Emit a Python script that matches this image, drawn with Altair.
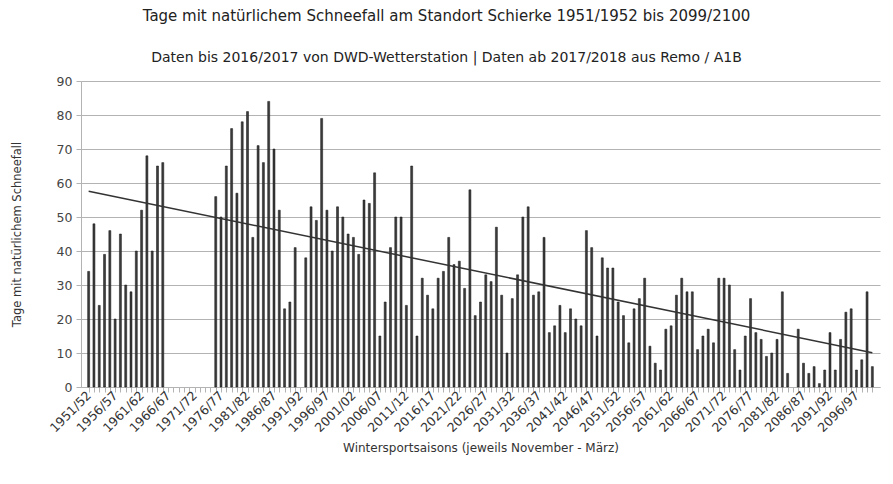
import json
import altair as alt
import pandas as pd

# Seasons 1951/52 ... 2099/2100
start_years = list(range(1951, 2100))
seasons = [f"{y}/{str(y + 1)[-2:]}" for y in start_years]

# Days with natural snowfall (None = no value in the source)
snow_days = [
    34, 48, 24, 39, 46, 20, 45, 30, 28, 40, 52, 68, 40, 65, 66,
    None, None, None, None, None, None, None, None, None,
    56, 50, 65, 76, 57, 78, 81, 44, 71, 66, 84, 70, 52, 23, 25, 41,
    None,
    38, 53, 49, 79, 52, 40, 53, 50, 45, 44,
    39, 55, 54, 63, 15, 25, 41, 50, 50, 24,
    65, 15, 32, 27, 23, 32, 34, 44, 36, 37,
    29, 58, 21, 25, 33, 31, 47, 27, 10, 26,
    33, 50, 53, 27, 28, 44, 16, 18, 24, 16,
    23, 20, 18, 46, 41, 15, 38, 35, 35, 25,
    21, 13, 23, 26, 32, 12, 7, 5, 17, 18,
    27, 32, 28, 28, 11, 15, 17, 13, 32, 32,
    30, 11, 5, 15, 26, 16, 14, 9, 10, 14,
    28, 4, None, 17, 7, 4, 6, 1, 5, 16,
    5, 14, 22, 23, 5, 8, 28, 6,
]

df = pd.DataFrame({"idx": list(range(len(seasons))), "season": seasons, "tage": snow_days})

FONT = "DejaVu Sans"
n = len(seasons)
label_expr = f"datum.value % 5 == 0 ? {json.dumps(seasons)}[datum.value] : ''"

x_enc = alt.X(
    "idx:Q",
    scale=alt.Scale(domain=[-0.5, n - 0.5], nice=False, zero=False),
    axis=alt.Axis(
        values=list(range(n)),
        labelExpr=label_expr,
        labelAngle=-45,
        labelAlign="right",
        labelBaseline="middle",
        labelOverlap=False,
        labelFlush=False,
        labelFontSize=12.5,
        labelColor="#333333",
        labelPadding=1,
        tickSize=5,
        tickColor="#b3b3b3",
        domainColor="#b3b3b3",
        grid=False,
        title="Wintersportsaisons (jeweils November - März)",
        titleFontSize=12,
        titleFontWeight="normal",
        titleColor="#333333",
        titlePadding=8,
    ),
)

y_enc = alt.Y(
    "tage:Q",
    scale=alt.Scale(domain=[0, 90], nice=False),
    axis=alt.Axis(
        values=list(range(0, 91, 10)),
        labelOverlap=False,
        labelFontSize=12.5,
        labelColor="#444444",
        labelPadding=4,
        tickSize=5,
        tickColor="#b3b3b3",
        domainColor="#b3b3b3",
        gridColor="#b3b3b3",
        title="Tage mit natürlichem Schneefall",
        titleFontSize=11.5,
        titleFontWeight="normal",
        titleColor="#333333",
        titlePadding=34,
    ),
)

bars = alt.Chart(df).mark_bar(
    size=2.0, color="#3d3d3d", stroke="#111111", strokeWidth=0.5
).encode(x=x_enc, y=y_enc)

trend = alt.Chart(df).transform_regression("idx", "tage").mark_line(
    color="#333333", strokeWidth=1.5
).encode(x=x_enc, y=y_enc)

chart = (
    alt.layer(bars, trend)
    .properties(
        width=799,
        height=306,
        autosize=alt.AutoSizeParams(type="none"),
        padding={"left": 73, "top": 73, "right": 5, "bottom": 89},
        title=alt.TitleParams(
            text="Tage mit natürlichem Schneefall am Standort Schierke 1951/1952 bis 2099/2100",
            subtitle="Daten bis 2016/2017 von DWD-Wetterstation | Daten ab 2017/2018 aus Remo / A1B",
            font=FONT,
            subtitleFont=FONT,
            fontSize=15,
            subtitleFontSize=14,
            fontWeight="normal",
            color="#222222",
            subtitleColor="#222222",
            anchor="middle",
            dx=-34,
            subtitlePadding=27,
            offset=10,
        ),
    )
    .configure(font=FONT)
    .configure_view(stroke=None)
)

chart.save("out.html", embed_options={"renderer": "svg", "actions": False})
